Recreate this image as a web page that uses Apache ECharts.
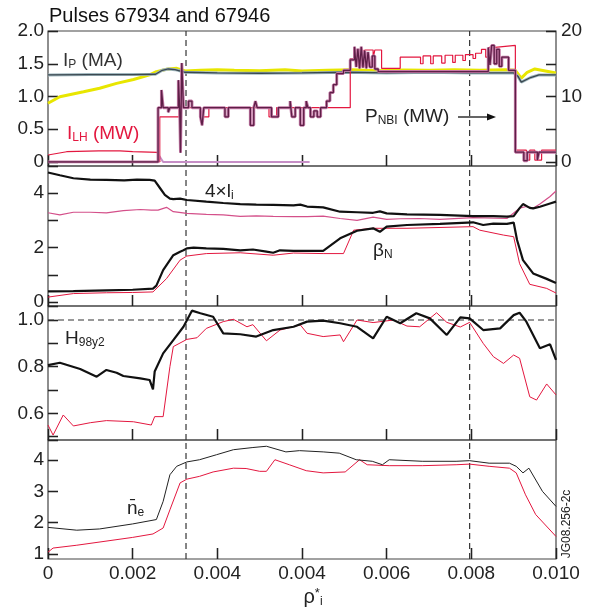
<!DOCTYPE html>
<html>
<head>
<meta charset="utf-8">
<script src="https://cdn.jsdelivr.net/npm/echarts@6/dist/echarts.min.js"></script>
<style>html,body{margin:0;padding:0;background:#fff}#main{width:594px;height:613px}</style>
</head>
<body>
<div id="main"></div>
<script>
// x is measured in tick steps (0..6), one step per printed tick label
const tickLabels = ['0', '0.002', '0.004', '0.004', '0.006', '0.008', '0.010'];
const markers = [1.63, 4.98];

// panel 1 : Ip (MA, left) and heating powers (MW, right)
const ipYellow = [[0,0.896],[0.14,0.997],[0.42,1.073],[0.61,1.125],[0.81,1.20],[1.01,1.26],[1.20,1.33],[1.28,1.38],[1.40,1.415],[1.52,1.43],[1.62,1.39],[1.8,1.40],[2.0,1.41],[2.2,1.40],[2.5,1.395],[2.8,1.41],[3.0,1.39],[3.3,1.40],[3.6,1.41],[3.9,1.395],[4.2,1.405],[4.5,1.40],[4.8,1.41],[5.1,1.40],[5.4,1.41],[5.52,1.40],[5.59,1.28],[5.66,1.37],[5.75,1.42],[6.0,1.36]];
const ipGray = [[0,1.33],[0.5,1.335],[1.0,1.335],[1.27,1.34],[1.35,1.40],[1.42,1.42],[1.50,1.41],[1.62,1.37],[2.0,1.36],[2.5,1.355],[3.0,1.36],[3.5,1.37],[4.0,1.36],[4.5,1.37],[5.0,1.36],[5.50,1.36],[5.55,1.31],[5.59,1.22],[5.70,1.29],[5.80,1.33],[6.0,1.33]];
const ilhRed = [[0,0.107],[0.02,0.13],[0.22,0.157],[0.6,0.17],[0.85,0.17],[1.0,0.157],[1.2,0.15],[1.29,0.147],[1.31,0.12],[1.32,0.0]];
const ilhLav = [[1.30,0.12],[1.36,0.0],[3.09,0.0]];
const pnbiA = [[0,0],[1.30,8.3],[1.34,11.0],[1.36,8.3],[1.42,7.6],[1.44,8.3],[1.54,12.5],[1.555,8.3],[1.565,1.4],[1.58,15.1],[1.60,8.3],[1.66,9.3],[1.70,8.3],[1.80,6.9],[1.82,5.6],[1.84,8.3],[2.09,6.9],[2.13,8.3],[2.39,5.6],[2.43,8.3],[2.45,9.3],[2.47,8.3],[2.64,6.9],[2.72,8.3],[2.86,9.3],[2.88,6.9],[2.92,8.3],[2.98,5.6],[3.02,8.3],[3.05,9.3],[3.07,8.3],[3.10,6.9],[3.14,7.8],[3.18,6.9],[3.22,8.3],[3.29,9.3],[3.33,10.6],[3.37,11.8],[3.41,13.5],[3.49,14.0],[3.57,15.6],[3.62,17.6],[3.64,14.5],[3.66,17.3],[3.68,14.3],[3.70,17.6],[3.72,14.4],[3.74,17.0],[3.76,14.3],[3.78,16.8],[3.80,14.5],[3.83,16.2],[3.86,14.2],[3.90,13.8],[5.20,17.5],[5.22,14.8],[5.24,17.8],[5.27,15.0],[5.30,17.2],[5.33,14.6],[5.36,16.0],[5.44,14.0],[5.52,1.5],[5.62,0.2],[5.66,1.5],[5.78,0.3],[5.80,1.5],[6.0,1.5]];
const pnbiB = [[0,0],[1.32,6.9],[1.55,11.0],[1.59,8.3],[1.80,6.9],[1.90,8.3],[2.61,6.9],[2.70,8.3],[3.57,15.8],[3.63,17.1],[3.72,15.8],[3.74,17.1],[3.84,15.8],[3.86,17.1],[3.94,14.3],[4.16,16.0],[4.40,15.0],[4.43,16.2],[4.52,15.0],[4.55,16.2],[4.65,15.1],[4.69,16.3],[4.78,15.2],[4.81,16.3],[4.90,15.5],[4.93,16.4],[5.02,15.8],[5.05,16.6],[5.12,17.2],[5.17,16.0],[5.21,17.5],[5.28,17.8],[5.52,1.8],[5.65,0.3],[5.69,1.8],[5.75,0.3],[5.83,1.8],[6.0,1.8]];

// panel 2 : 4 x li and betaN
const liBlack = [[0,4.76],[0.14,4.66],[0.30,4.55],[0.5,4.50],[0.69,4.49],[0.9,4.47],[1.05,4.50],[1.20,4.49],[1.26,4.46],[1.32,4.2],[1.38,3.94],[1.44,3.8],[1.48,3.78],[1.56,3.80],[1.64,3.75],[1.87,3.69],[2.07,3.64],[2.27,3.60],[2.46,3.58],[2.66,3.57],[2.9,3.55],[2.98,3.58],[3.06,3.51],[3.25,3.48],[3.45,3.32],[3.65,3.30],[3.84,3.28],[3.92,3.33],[4.0,3.26],[4.24,3.22],[4.63,3.20],[5.02,3.16],[5.26,3.16],[5.42,3.14],[5.50,3.16],[5.57,3.45],[5.61,3.60],[5.69,3.46],[5.73,3.44],[5.81,3.50],[5.93,3.62],[6.0,3.69]];
const liPink = [[0,3.28],[0.14,3.20],[0.30,3.30],[0.50,3.30],[0.69,3.28],[0.89,3.36],[1.09,3.40],[1.22,3.38],[1.30,3.38],[1.40,3.48],[1.48,3.32],[1.64,3.26],[1.87,3.22],[2.07,3.20],[2.27,3.15],[2.46,3.17],[2.66,3.15],[2.90,3.14],[3.06,3.14],[3.25,3.16],[3.45,3.07],[3.65,3.0],[3.84,3.12],[4.0,3.04],[4.16,3.06],[4.39,3.07],[4.63,3.04],[5.02,3.10],[5.42,3.07],[5.57,3.45],[5.65,3.51],[5.73,3.45],[5.81,3.60],[5.93,3.88],[6.0,4.08]];
const betaBlack = [[0,0.39],[0.30,0.40],[0.69,0.43],[1.0,0.45],[1.24,0.49],[1.28,0.6],[1.36,1.17],[1.48,1.72],[1.56,1.85],[1.60,1.90],[1.64,1.97],[1.72,2.0],[1.87,1.97],[2.07,1.95],[2.27,1.90],[2.42,1.93],[2.58,1.85],[2.66,1.81],[2.74,1.90],[2.90,1.88],[3.06,1.88],[3.25,1.88],[3.45,2.34],[3.65,2.62],[3.84,2.71],[3.92,2.58],[4.0,2.77],[4.24,2.83],[4.63,2.87],[5.02,2.93],[5.14,2.83],[5.26,2.88],[5.42,2.87],[5.50,2.92],[5.54,2.28],[5.61,1.54],[5.73,1.05],[5.89,0.85],[6.0,0.7]];
const betaRed = [[0,0.18],[0.30,0.31],[0.69,0.34],[1.0,0.35],[1.24,0.37],[1.40,0.86],[1.56,1.54],[1.64,1.69],[1.87,1.78],[2.27,1.81],[2.66,1.72],[2.90,1.80],[3.25,1.78],[3.49,1.78],[3.61,2.64],[3.84,2.71],[4.24,2.71],[4.63,2.74],[5.02,2.77],[5.10,2.64],[5.38,2.46],[5.50,2.40],[5.57,1.41],[5.69,0.65],[5.89,0.50],[6.0,0.33]];

// panel 3 : H98y2
const hBlack = [[0,0.807],[0.14,0.817],[0.38,0.79],[0.575,0.757],[0.69,0.786],[0.81,0.774],[0.89,0.76],[1.09,0.75],[1.20,0.743],[1.24,0.703],[1.26,0.779],[1.36,0.857],[1.48,0.914],[1.60,0.971],[1.70,1.04],[1.80,1.029],[1.95,1.014],[2.07,0.943],[2.27,0.939],[2.46,0.929],[2.66,0.957],[2.90,0.971],[3.06,0.993],[3.25,0.997],[3.45,0.986],[3.65,0.971],[3.84,0.921],[4.0,1.014],[4.16,0.986],[4.35,1.029],[4.51,1.007],[4.71,0.936],[4.87,1.011],[4.98,1.007],[5.14,0.957],[5.34,0.964],[5.50,1.021],[5.57,1.031],[5.65,0.993],[5.81,0.879],[5.93,0.896],[6.0,0.829]];
const hRed = [[0,0.55],[0.06,0.507],[0.18,0.593],[0.30,0.546],[0.50,0.56],[0.69,0.569],[1.01,0.564],[1.22,0.55],[1.26,0.586],[1.36,0.586],[1.44,0.80],[1.48,0.886],[1.64,0.917],[1.76,0.924],[1.87,0.964],[2.07,0.993],[2.19,1.003],[2.35,0.971],[2.42,0.98],[2.58,0.911],[2.74,0.957],[2.98,0.979],[3.06,0.943],[3.25,0.929],[3.45,0.936],[3.49,0.907],[3.65,1.0],[3.84,0.989],[4.08,1.0],[4.24,0.974],[4.39,0.971],[4.59,1.031],[4.71,0.99],[4.87,0.97],[4.98,0.99],[5.14,0.90],[5.26,0.843],[5.38,0.814],[5.50,0.85],[5.57,0.836],[5.69,0.671],[5.77,0.657],[5.89,0.726],[6.0,0.679]];
const hRef = 1.0;

// panel 4 : line averaged density
const neBlack = [[0,1.85],[0.34,1.76],[0.61,1.80],[1.0,1.96],[1.28,2.1],[1.36,2.68],[1.44,3.53],[1.52,3.80],[1.64,3.94],[1.79,4.01],[1.99,4.17],[2.19,4.33],[2.42,4.40],[2.58,4.44],[2.81,4.26],[2.97,4.30],[3.25,4.26],[3.44,4.22],[3.64,4.01],[3.83,3.96],[3.95,3.85],[4.03,4.01],[4.42,3.96],[4.82,3.96],[4.98,3.98],[5.21,3.90],[5.45,3.90],[5.53,3.80],[5.61,3.59],[5.68,3.74],[5.84,3.0],[6.0,2.52]];
const neRed = [[0,1.06],[0.06,1.19],[0.34,1.28],[1.0,1.53],[1.24,1.64],[1.36,1.83],[1.44,2.41],[1.56,3.27],[1.64,3.39],[1.79,3.48],[1.95,3.62],[2.19,3.74],[2.34,3.73],[2.50,3.64],[2.58,3.64],[2.68,4.01],[2.85,3.85],[3.05,3.66],[3.25,3.59],[3.51,3.62],[3.68,4.01],[3.77,3.85],[4.03,3.82],[4.42,3.82],[4.82,3.85],[4.98,3.87],[5.21,3.80],[5.45,3.74],[5.53,3.59],[5.64,2.89],[5.76,2.26],[6.0,1.56]];

const FONT = 'Liberation Sans';
const RED = '#e3173f';
const AX = '#444';

const frames = [[31, 135], [166, 140], [306, 134], [440, 119]];
const plots = [[31, 131], [166, 136], [306, 130.7], [440, 114]];
// y scales: [plot index, min, max, step, label map, side]
const yScales = [
  [0, 0, 2, 0.5, { '0': '0', '0.5': '0.5', '1': '1.0', '1.5': '1.5', '2': '2.0' }, 'left'],
  [0, 0, 20, 5, { '0': '0', '10': '10', '20': '20' }, 'right'],
  [1, 0, 5, 1, { '0': '0', '2': '2', '4': '4' }, 'left'],
  [2, 0.5, 1.06, 0.1, { '0.6': '0.6', '0.8': '0.8', '1': '1.0' }, 'left'],
  [3, 1, 4.64, 1, { '1': '1', '2': '2', '3': '3', '4': '4' }, 'left']
];

function rich(color, size) {
  return {
    a: { fontSize: size, fontFamily: FONT, fontWeight: 'normal', color: color, verticalAlign: 'top', lineHeight: size + 1 },
    s: { fontSize: 12, fontFamily: FONT, fontWeight: 'normal', color: color, verticalAlign: 'bottom', lineHeight: 14, padding: [10, 0, 0, 0] },
    u: { fontSize: 13, fontFamily: FONT, fontWeight: 'normal', color: color, verticalAlign: 'top', lineHeight: 14 }
  };
}

function note(text, left, top, color) {
  return { text: text, left: left, top: top, padding: 0, textStyle: { fontWeight: 'normal', rich: rich(color || '#222', 19) } };
}

function ln(data, xi, yi, color, width, z, extra) {
  return Object.assign({
    type: 'line', data: data, xAxisIndex: xi, yAxisIndex: yi, symbol: 'none',
    lineStyle: { color: color, width: width }, z: z, silent: true
  }, extra || {});
}

function pick(map) {
  return function (v) {
    for (const k in map) if (Math.abs(v - Number(k)) < 1e-6) return map[k];
    return '';
  };
}

function tick(len) {
  return { show: true, inside: true, length: len, lineStyle: { color: '#222', width: 1.3 } };
}
// backup: tick marks as split lines of thin strips along the edges
function stripAxis(grid, min, max, step) {
  return {
    type: 'value', gridIndex: grid, min: min, max: max, interval: step,
    axisLine: { show: false }, axisTick: { show: false }, axisLabel: { show: false },
    splitLine: { show: true, lineStyle: { color: '#222', width: 1.3 } }
  };
}
function blank(grid, max) {
  return { type: 'value', gridIndex: grid, min: 0, max: max || 1, show: false };
}

let chart = echarts.init(document.getElementById('main'));

// 0-3 frames, 4-7 plots, 8-11 x tick strips, 12-16 y tick strips
let grids = frames.map(f => ({ left: 48, right: 38, top: f[0], height: f[1], show: true, borderColor: AX, borderWidth: 1.2 }))
  .concat(plots.map(p => ({ left: 48, right: 38, top: p[0], height: p[1] })))
  .concat(frames.map(f => ({ left: 48, right: 38, top: f[0] + f[1] - 11, height: 11 })))
  .concat(yScales.map(s => Object.assign({ top: plots[s[0]][0], height: plots[s[0]][1], width: 10 }, s[5] === 'left' ? { left: 48 } : { right: 38 })));

// frame x axes carry only the ticks; labels sit on the last plot's x axis
let xAxes = frames.map((f, i) => ({
  type: 'value', gridIndex: i, min: 0, max: 6, interval: 1,
  axisLine: { show: false }, splitLine: { show: false }, axisTick: tick(11), axisLabel: { show: false }
}))
  .concat(plots.map((p, i) => i < 3 ? blank(4 + i, 6) : {
    type: 'value', gridIndex: 7, min: 0, max: 6, interval: 1,
    axisLine: { show: false }, axisTick: { show: false }, splitLine: { show: false },
    axisLabel: { fontSize: 19, fontFamily: FONT, color: '#222', margin: 10, formatter: v => tickLabels[Math.round(v)] },
    name: '{a|ρ}{u|*}{s|i}', nameLocation: 'middle', nameGap: 33,
    nameTextStyle: { rich: rich('#222', 20), padding: [0, 0, 0, 22] }
  }))
  .concat(frames.map((f, i) => stripAxis(8 + i, 0, 6, 1)))
  .concat(yScales.map((s, i) => blank(12 + i)));

let yAxes = frames.map((f, i) => blank(i))
  .concat(yScales.map(s => ({
    type: 'value', gridIndex: 4 + s[0], position: s[5], min: s[1], max: s[2], interval: s[3],
    axisLine: { show: false }, splitLine: { show: false }, axisTick: tick(10),
    axisLabel: { fontSize: 19, fontFamily: FONT, color: '#222', margin: s[5] === 'right' ? 5 : 4, formatter: pick(s[4]) }
  })))
  .concat(frames.map((f, i) => blank(8 + i)))
  .concat(yScales.map((s, i) => stripAxis(12 + i, s[1], s[2], s[3])));

const dash = { color: '#333', width: 1.2, type: [6, 4] };
let series = [];
// dashed time markers across every panel
frames.forEach((f, i) => markers.forEach(m => series.push(ln([[m, 0], [m, 1]], i, i, '#333', 1.2, 2, { lineStyle: dash }))));

series.push(
  // panel 1
  ln(ipYellow, 4, 4, '#e8e600', 3, 3),
  ln(ipGray, 4, 4, '#9fb6bd', 3, 4),
  ln(ipGray, 4, 4, '#3b4850', 1.3, 5),
  ln(ilhRed, 4, 4, RED, 1.2, 4),
  ln(ilhLav, 4, 4, '#c68ec6', 2, 4),
  ln(pnbiB, 4, 5, RED, 1.2, 6, { step: 'end' }),
  ln(pnbiA, 4, 5, '#c47aa6', 3, 7, { step: 'end' }),
  ln(pnbiA, 4, 5, '#5e1f47', 1.3, 8, { step: 'end' }),
  // panel 2
  ln(liPink, 5, 6, '#d4508a', 1.2, 4),
  ln(liBlack, 5, 6, '#111', 2.2, 5),
  ln(betaRed, 5, 6, RED, 1, 4),
  ln(betaBlack, 5, 6, '#111', 2.2, 5),
  // panel 3
  ln([[0, hRef], [6, hRef]], 6, 7, '#333', 1.2, 3, { lineStyle: dash }),
  ln(hRed, 6, 7, RED, 1, 4),
  ln(hBlack, 6, 7, '#111', 2.2, 5),
  // panel 4
  ln(neRed, 7, 8, RED, 1, 4),
  ln(neBlack, 7, 8, '#222', 1, 5)
);

chart.setOption({
  animation: false,
  backgroundColor: '#fff',
  title: [
    { text: 'Pulses 67934 and 67946', left: 49, top: 6, padding: 0, textStyle: { fontSize: 20, fontWeight: 'normal', color: '#111', fontFamily: FONT } },
    note('{a|I}{s|P}{a| (MA)}', 63, 51, '#333'),
    note('{a|I}{s|LH}{a| (MW)}', 67, 124, RED),
    note('{a|P}{s|NBI}{a| (MW)}', 365, 107, '#222'),
    note('{a|4×l}{s|i}', 205, 182, '#222'),
    note('{a|β}{s|N}', 373, 241, '#222'),
    note('{a|H}{s|98y2}', 65, 329, '#222'),
    note('{a|n\u0304}{s|e}', 127, 499, '#222')
  ],
  graphic: [
    { type: 'line', shape: { x1: 458, y1: 117, x2: 490, y2: 117 }, style: { stroke: '#111', lineWidth: 1.3 } },
    { type: 'polygon', shape: { points: [[487, 113.5], [496, 117], [487, 120.5]] }, style: { fill: '#111' } },
    { type: 'text', x: 567, y: 524, rotation: Math.PI / 2,
      style: { text: 'JG08.256-2c', font: '12px "Liberation Sans"', fill: '#222', align: 'center', verticalAlign: 'middle' } }
  ],
  grid: grids,
  xAxis: xAxes,
  yAxis: yAxes,
  series: series
});
</script>
</body>
</html>
